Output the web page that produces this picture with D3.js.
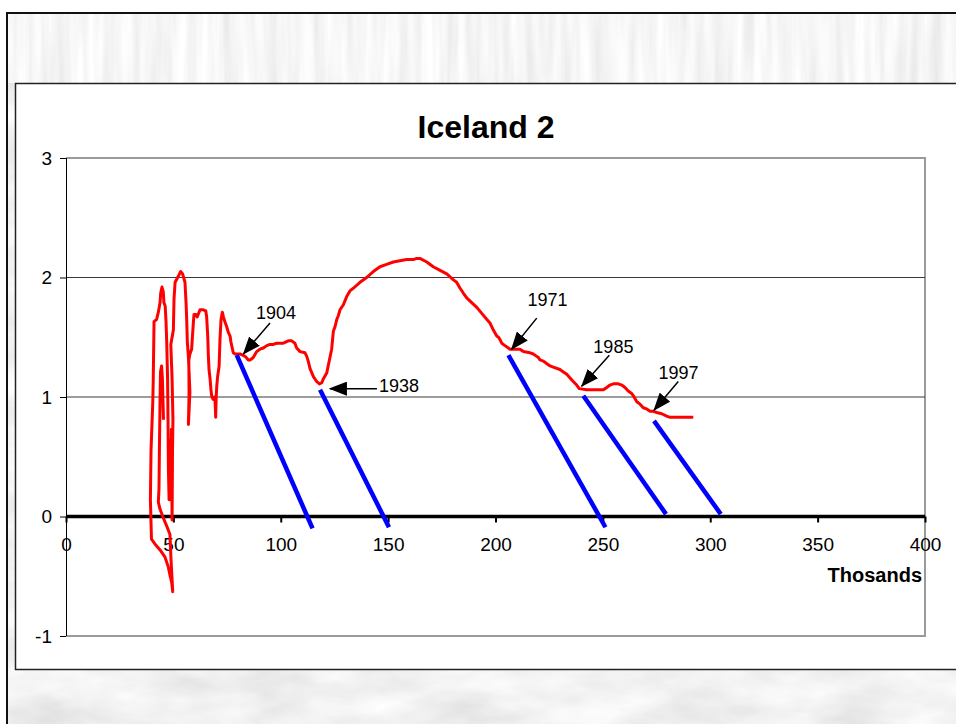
<!DOCTYPE html>
<html>
<head>
<meta charset="utf-8">
<script src="https://cdn.jsdelivr.net/npm/d3@7"></script>
<style>
body { margin: 0; background: #fff; }
svg { display: block; font-family: Arial, "Liberation Sans", sans-serif; }
</style>
</head>
<body>
<div class="chartBox"></div>
<script>
// Define SVG area dimensions
var svgWidth = 956;
var svgHeight = 724;

// Plot area margins inside the page
var margin = {top: 158, right: 31, bottom: 88, left: 66};
var chartWidth = svgWidth - margin.left - margin.right;
var chartHeight = svgHeight - margin.top - margin.bottom;

// Chart values (x in thousands)
var titleText = "Iceland 2";
var xAxisLabel = "Thosands";
var xTicks = [0, 50, 100, 150, 200, 250, 300, 350, 400];
var yTicks = [-1, 0, 1, 2, 3];

var curveX = [45.4, 44.9, 44.5, 44.0, 43.8, 43.5, 43.3, 43.0, 43.8, 45.3, 46.9, 48.4, 48.9, 49.7, 49.2, 48.4,
  47.6, 46.1, 43.8, 41.4, 39.8, 39.3, 39.6, 40.4, 40.6, 41.0, 42.2, 43.0, 43.8, 44.1, 44.7, 45.3, 45.6, 46.2,
  46.6, 46.9, 47.3, 47.5, 47.7, 48.0, 48.4, 48.7, 49.1, 49.4, 49.6, 49.8, 49.4, 48.8, 50.0, 50.3, 50.8, 52.3,
  53.4, 54.3, 55.4, 55.9, 56.2, 56.5, 57.0, 57.4, 57.7, 57.4, 57.0, 57.3, 57.2, 57.7, 58.5, 59.3, 59.6, 60.5,
  61.1, 62.4, 63.9, 65.1, 65.5, 66.0, 66.3, 66.6, 67.1, 67.5, 67.9, 68.6, 69.1, 69.4, 69.7, 69.9, 70.2, 70.6,
  71.3, 71.7, 72.2, 72.8, 73.3, 74.0, 74.8, 75.6, 76.4, 76.8, 77.4, 77.9, 78.7, 81.0, 83.4, 84.9, 85.7, 87.2,
  88.8, 90.3, 91.9, 93.5, 95.0, 96.5, 98.1, 99.7, 101.2, 103.5, 105.1, 106.6, 107.4, 109.0, 111.3, 112.1,
  112.8, 113.6, 115.2, 116.7, 118.0, 119.1, 119.8, 121.4, 122.1, 123.7, 124.5, 125.3, 126.1, 126.8, 127.6,
  129.1, 130.7, 132.3, 133.8, 136.9, 140.0, 143.1, 146.2, 149.3, 152.4, 155.5, 158.6, 161.7, 163.3, 164.8,
  168.0, 171.0, 174.2, 177.3, 180.4, 181.9, 183.5, 185.0, 186.6, 188.9, 191.3, 193.6, 195.9, 197.4, 199.0,
  200.6, 201.4, 202.1, 202.9, 204.4, 206.8, 208.3, 211.4, 213.0, 216.1, 217.6, 219.2, 220.0, 220.7, 222.3,
  223.8, 225.4, 226.9, 230.0, 231.6, 233.2, 234.7, 236.2, 237.8, 239.0, 242.5, 245.5, 250.2, 251.8, 253.3,
  254.9, 257.2, 258.8, 260.3, 261.8, 263.4, 264.2, 265.8, 267.3, 268.8, 270.4, 272.0, 273.5, 275.1, 277.4,
  279.7, 281.3, 285.9, 292.1];
var curveY = [0.81, 1.15, 1.26, 1.21, 0.98, 0.56, 0.23, 0.12, 0.06, -0.01, -0.08, -0.15, -0.36, -0.63, -0.55, -0.49,
  -0.42, -0.34, -0.28, -0.23, -0.19, 0.14, 0.56, 0.95, 1.12, 1.63, 1.65, 1.71, 1.79, 1.87, 1.92, 1.88, 1.79, 1.76,
  1.62, 1.46, 1.15, 0.81, 0.39, 0.14, 0.64, 0.14, 0.73, -0.03, 0.56, 0.81, 1.15, 1.44, 1.56, 1.82, 1.96, 2.01,
  2.05, 2.03, 1.96, 1.79, 1.65, 1.46, 1.34, 1.17, 1.04, 0.92, 0.77, 1.02, 1.31, 1.36, 1.40, 1.62, 1.69, 1.69,
  1.67, 1.73, 1.73, 1.72, 1.67, 1.51, 1.34, 1.23, 1.15, 1.06, 1.00, 0.98, 1.00, 0.98, 0.83, 0.98, 1.09, 1.17,
  1.26, 1.48, 1.65, 1.71, 1.67, 1.63, 1.59, 1.54, 1.51, 1.46, 1.41, 1.37, 1.36, 1.36, 1.34, 1.31, 1.31, 1.33,
  1.38, 1.40, 1.41, 1.43, 1.44, 1.44, 1.45, 1.45, 1.45, 1.47, 1.47, 1.45, 1.41, 1.38, 1.37, 1.34,
  1.30, 1.24, 1.17, 1.13, 1.11, 1.12, 1.15, 1.20, 1.26, 1.40, 1.55, 1.59, 1.65, 1.68, 1.73,
  1.77, 1.84, 1.89, 1.91, 1.96, 2.00, 2.05, 2.09, 2.11, 2.13, 2.14, 2.15, 2.15, 2.16, 2.16,
  2.13, 2.09, 2.06, 2.03, 1.98, 1.96, 1.91, 1.87, 1.83, 1.79, 1.75, 1.70, 1.65, 1.62, 1.56,
  1.51, 1.50, 1.48, 1.45, 1.43, 1.40, 1.40, 1.40, 1.38, 1.37, 1.36, 1.34, 1.33, 1.31, 1.30,
  1.28, 1.26, 1.25, 1.23, 1.21, 1.19, 1.16, 1.13, 1.10, 1.07, 1.06, 1.06, 1.06, 1.08, 1.10,
  1.11, 1.11, 1.10, 1.08, 1.05, 1.03, 1.01, 0.96, 0.94, 0.91, 0.90, 0.88, 0.88, 0.87, 0.86,
  0.84, 0.83, 0.83, 0.83];

// Straight blue trend segments
var trendStartX = [79.5, 118.3, 206.0, 240.9, 273.8];
var trendStartY = [1.35, 1.06, 1.35, 1.01, 0.80];
var trendEndX = [114.8, 150.4, 251.2, 279.4, 304.9];
var trendEndY = [-0.10, -0.09, -0.09, 0.02, 0.02];

// Year callouts: label, label position, arrow tail and tip
var noteYears = ["1904", "1938", "1971", "1985", "1997"];
var noteAnchor = ["middle", "start", "middle", "middle", "middle"];
var noteTextX = [97.8, 145.7, 224.2, 254.9, 285.2];
var noteTextY = [1.65, 1.04, 1.76, 1.37, 1.15];
var noteTailX = [95.0, 144.8, 219.2, 253.0, 285.1];
var noteTailY = [1.62, 1.07, 1.66, 1.35, 1.13];
var noteTipX = [82.6, 122.9, 207.5, 240.1, 273.8];
var noteTipY = [1.36, 1.07, 1.40, 1.09, 0.89];

var svg = d3.select(".chartBox")
  .append("svg")
  .attr("width", svgWidth)
  .attr("height", svgHeight);

var defs = svg.append("defs");

// textured slide background (streaks on top, stones below)
var streaks = defs.append("filter").attr("id", "streaks")
  .attr("x", 0).attr("y", 0).attr("width", 1).attr("height", 1);
streaks.append("feTurbulence")
  .attr("type", "fractalNoise")
  .attr("baseFrequency", "0.09 0.006")
  .attr("numOctaves", 3)
  .attr("seed", 7);
streaks.append("feColorMatrix")
  .attr("type", "matrix")
  .attr("values", "0.32 0 0 0 0.76  0.32 0 0 0 0.76  0.32 0 0 0 0.76  0 0 0 0 1");

var stones = defs.append("filter").attr("id", "stones")
  .attr("x", 0).attr("y", 0).attr("width", 1).attr("height", 1);
stones.append("feTurbulence")
  .attr("type", "fractalNoise")
  .attr("baseFrequency", "0.012 0.03")
  .attr("numOctaves", 4)
  .attr("seed", 2);
stones.append("feColorMatrix")
  .attr("type", "matrix")
  .attr("values", "0.32 0 0 0 0.73  0.32 0 0 0 0.73  0.32 0 0 0 0.73  0 0 0 0 1");

defs.append("marker")
  .attr("id", "arrowHead")
  .attr("markerUnits", "userSpaceOnUse")
  .attr("viewBox", "0 0 18 14")
  .attr("markerWidth", 18)
  .attr("markerHeight", 14)
  .attr("refX", 17)
  .attr("refY", 7)
  .attr("orient", "auto")
  .append("path")
  .attr("d", "M0,0 L18,7 L0,14 Z")
  .attr("fill", "#000");

svg.append("rect").attr("x", 7).attr("y", 13).attr("width", 949).attr("height", 70)
  .attr("filter", "url(#streaks)");
svg.append("rect").attr("x", 7).attr("y", 83).attr("width", 949).attr("height", 641)
  .attr("filter", "url(#stones)");

// slide frame
svg.append("line").attr("x1", 6).attr("x2", 956).attr("y1", 13).attr("y2", 13)
  .attr("stroke", "#111").attr("stroke-width", 2);
svg.append("line").attr("x1", 7).attr("x2", 7).attr("y1", 12).attr("y2", 724)
  .attr("stroke", "#111").attr("stroke-width", 2);

// chart area
svg.append("rect")
  .attr("x", 15.5).attr("y", 83.5)
  .attr("width", 960).attr("height", 586)
  .attr("fill", "#fff")
  .attr("stroke", "#222")
  .attr("stroke-width", 1.5);

var chartGroup = svg.append("g")
  .attr("transform", `translate(${margin.left}, ${margin.top})`);

var xLinearScale = d3.scaleLinear()
  .range([0, chartWidth])
  .domain([0, 400]);

var yLinearScale = d3.scaleLinear()
  .range([chartHeight, 0])
  .domain([-1, 3]);

// plot area border (grey) on top, right and bottom
chartGroup.append("path")
  .attr("d", `M0,0 H${chartWidth} V${chartHeight} H0`)
  .attr("fill", "none")
  .attr("stroke", "#9a9a9a")
  .attr("stroke-width", 2);

// grid lines
chartGroup.selectAll(".grid")
  .data([1, 2])
  .enter().append("line")
  .attr("x1", 0).attr("x2", chartWidth)
  .attr("y1", d => yLinearScale(d)).attr("y2", d => yLinearScale(d))
  .attr("stroke", "#3a3a3a")
  .attr("stroke-width", 1);

// left axis
var leftAxis = d3.axisLeft(yLinearScale)
  .tickValues(yTicks)
  .tickSize(6)
  .tickPadding(8)
  .tickFormat(d => String(d));

var yAxisG = chartGroup.append("g")
  .call(leftAxis);
yAxisG.select(".domain").attr("stroke", "#000").attr("d", `M0.5,0 V${chartHeight}`);
yAxisG.selectAll("line").attr("stroke", "#000");
yAxisG.selectAll("text")
  .attr("font-size", "19px")
  .attr("font-family", "Arial, 'Liberation Sans', sans-serif")
  .attr("fill", "#000");

// bottom axis, sitting on y = 0
var bottomAxis = d3.axisBottom(xLinearScale)
  .tickValues(xTicks)
  .tickSize(6)
  .tickPadding(15)
  .tickFormat(d => String(d));

var xAxisG = chartGroup.append("g")
  .attr("transform", "translate(0, " + yLinearScale(0) + ")")
  .call(bottomAxis);
xAxisG.select(".domain")
  .attr("stroke", "#000")
  .attr("stroke-width", 3.5)
  .attr("d", `M0,0 H${chartWidth}`);
xAxisG.selectAll("line").attr("stroke", "#000").attr("stroke-width", 2);
xAxisG.selectAll("text")
  .attr("font-size", "19px")
  .attr("font-family", "Arial, 'Liberation Sans', sans-serif")
  .attr("fill", "#000");

// axis title
chartGroup.append("text")
  .attr("x", chartWidth - 3)
  .attr("y", yLinearScale(0) + 65)
  .attr("text-anchor", "end")
  .attr("font-size", "20px")
  .attr("font-weight", "bold")
  .text(xAxisLabel);

// chart title
svg.append("text")
  .attr("x", 486)
  .attr("y", 138)
  .attr("text-anchor", "middle")
  .attr("font-size", "32px")
  .attr("font-weight", "bold")
  .text(titleText);

// red curve
var curvePoints = curveX.map((x, i) => [x, curveY[i]]);
var lineGen = d3.line()
  .x(d => xLinearScale(d[0]))
  .y(d => yLinearScale(d[1]));

chartGroup.append("path")
  .datum(curvePoints)
  .attr("d", lineGen)
  .attr("fill", "none")
  .attr("stroke", "#ff0000")
  .attr("stroke-width", 3)
  .attr("stroke-linejoin", "round");

// blue trend segments
chartGroup.selectAll(".trend")
  .data(trendStartX)
  .enter().append("line")
  .attr("x1", (d, i) => xLinearScale(trendStartX[i]))
  .attr("y1", (d, i) => yLinearScale(trendStartY[i]))
  .attr("x2", (d, i) => xLinearScale(trendEndX[i]))
  .attr("y2", (d, i) => yLinearScale(trendEndY[i]))
  .attr("stroke", "#0000ff")
  .attr("stroke-width", 4.5);

// callouts
chartGroup.selectAll(".noteArrow")
  .data(noteYears)
  .enter().append("line")
  .attr("x1", (d, i) => xLinearScale(noteTailX[i]))
  .attr("y1", (d, i) => yLinearScale(noteTailY[i]))
  .attr("x2", (d, i) => xLinearScale(noteTipX[i]))
  .attr("y2", (d, i) => yLinearScale(noteTipY[i]))
  .attr("stroke", "#000")
  .attr("stroke-width", 1.5)
  .attr("marker-end", "url(#arrowHead)");

chartGroup.selectAll(".noteText")
  .data(noteYears)
  .enter().append("text")
  .attr("x", (d, i) => xLinearScale(noteTextX[i]))
  .attr("y", (d, i) => yLinearScale(noteTextY[i]))
  .attr("text-anchor", (d, i) => noteAnchor[i])
  .attr("font-size", "18px")
  .attr("fill", "#000")
  .text(d => d);
</script>
</body>
</html>
